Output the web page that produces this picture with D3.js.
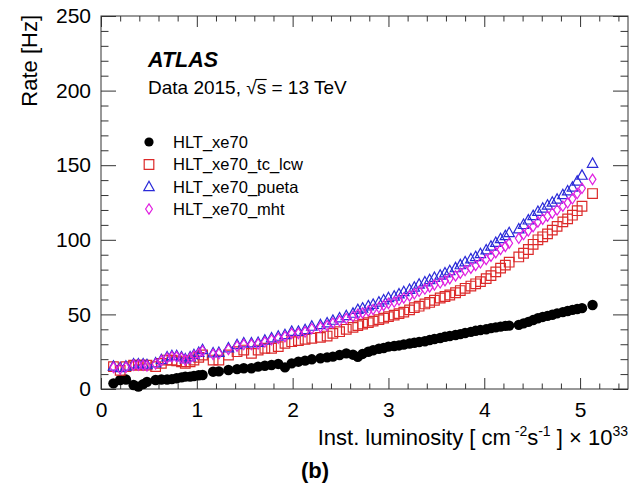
<!DOCTYPE html>
<html><head><meta charset="utf-8">
<script src="https://cdn.jsdelivr.net/npm/d3@7"></script>
<style>
body{margin:0;background:#fff}
svg{display:block}
text{font-family:"Liberation Sans",Arial,Helvetica,sans-serif;fill:#000}
</style>
</head><body>
<svg id="c" width="638" height="486"></svg>
<script>
// Instantaneous luminosity [10^33 cm^-2 s^-1]
const lumi = [0.13,0.20,0.26,
 0.34,0.39,0.44,0.48,
 0.57,0.63,0.69,0.74,0.79,0.84,0.88,0.93,0.97,1.02,1.06,
 1.17,1.23,
 1.33,1.42,1.49,1.57,1.64,1.71,1.78,1.85,1.92,1.99,2.06,2.13,2.20,2.29,2.36,2.42,2.49,2.56,2.63,
 2.68,2.73,2.79,2.84,2.90,2.95,3.00,3.06,3.11,3.16,3.22,3.27,3.32,3.38,3.43,3.48,3.54,3.59,3.64,3.70,3.75,3.80,3.86,3.91,3.96,4.02,4.07,4.12,4.17,4.22,4.26,
 4.36,4.41,4.46,4.51,4.56,4.61,4.66,4.71,4.76,4.82,4.87,4.92,4.97,5.02,
 5.13];
// Rates [Hz]
const rateXe70 = [3.8,6.0,6.4,
 2.7,1.6,3.3,4.8,
 6.0,6.4,6.4,6.6,7.2,7.8,8.3,8.3,8.7,9.2,9.4,
 11.6,11.8,
 12.7,13.3,13.9,13.9,15.0,15.6,16.1,16.8,14.5,17.2,18.3,19.0,19.9,20.6,21.2,21.7,22.8,23.9,23.0,
 21.5,23.5,25.0,26.0,27.0,27.5,28.4,28.8,29.2,29.8,30.5,31.0,31.5,32.0,32.8,33.5,34.2,35.0,35.5,36.2,36.8,37.5,38.3,39.0,39.5,40.0,40.8,41.3,41.8,42.3,42.5,
 43.0,44.0,45.0,46.2,47.4,48.3,49.0,49.8,50.7,51.5,52.3,53.0,53.6,54.2,
 56.3];
const rateTcLcw = [15,12.5,15,
 16,16,16,16,
 15,17.2,19.4,19.4,18.9,18.2,17.2,18.2,19.4,21.2,22.8,
 19.4,19.4,
 22.8,25.0,26.1,23.9,26.1,27.3,27.3,28.4,30.6,31.7,32.4,33.3,34.0,34.6,35.5,37.3,38.4,40.0,41.3,
 42.5,43.5,44.5,45.5,46.5,47.5,48.5,49.5,50.5,51.5,53,54.5,55.5,57,58,59.5,61,62,63,64.5,66,67.5,69,70.5,72,74,76,78.5,81,83,85,
 88.5,91,93.5,97,100,102,104,106.5,109,112,114,116.5,119.5,122.5,
 131];
const ratePueta = [15,14,15,
 16.5,16.5,16.5,16,
 17.2,19.4,21.2,22.1,22.1,21.2,19.9,21.2,22.8,24.3,26.1,
 23.9,24.3,
 27.3,29.5,30.6,30.6,31.0,32.4,34.0,35.1,36.2,38.4,38.4,39.5,41.8,42.9,44.0,45.8,47.4,48.9,50.5,
 53,54,55.5,56.5,58,59.5,61,62,63.5,65,66.5,68,70,71.5,73,74.5,76,77.5,79,81,83,85,87,88.5,90.5,93,95.5,98,100.5,102.5,104.5,
 107,110,113,116,118.8,121,123,125,127,130,132.5,135,139,143,
 151];
const rateMht = [14.5,13.5,14.5,
 16,16,16,15.5,
 16.8,19,20.8,21.6,21.6,20.8,19.5,20.8,22.3,23.8,25.5,
 23.2,23.6,
 26.5,28.7,29.8,29.8,30.2,31.5,33.0,34.0,35.1,37.2,37.3,38.3,40.4,41.5,42.5,44.2,45.7,47.2,48.6,
 50.0,51.0,52.3,53.3,54.6,56.0,57.4,58.3,59.6,61,62.4,63.8,65.5,67,68.4,69.8,71.2,72.6,74,75.8,77.6,79.4,81,82.8,84.6,86.8,89,91.4,93.6,95.6,97.7,
 101,103.5,106,108.8,112,113.8,115.8,117.8,120,122.5,124.8,127.5,131,134.5,
 140.5];
const seriesNames = ["HLT_xe70","HLT_xe70_tc_lcw","HLT_xe70_pueta","HLT_xe70_mht"];
const xMajor = [0,1,2,3,4,5];
const yMajor = [0,50,100,150,200,250];

const svg = d3.select("#c");
const L=101,R=628,T=16,B=389;
const x = d3.scaleLinear().domain([0,5.5]).range([L,R]);
const y = d3.scaleLinear().domain([0,250]).range([B,T]);
const xMinor = d3.range(0,5.5001,0.2).map(v=>+v.toFixed(2)).filter(v=>Math.abs(v-Math.round(v))>1e-6);
const yMinor = d3.range(0,250.001,10).filter(v=>v%50!==0);

const FS=21;
function styleAxis(g){ g.select(".domain").remove(); g.selectAll("line").attr("stroke","#333").attr("stroke-width",1); }

// bottom
svg.append("g").attr("transform",`translate(0,${B})`)
 .call(d3.axisBottom(x).tickValues(xMajor).tickSize(-11).tickPadding(13).tickFormat(d3.format("d")))
 .call(styleAxis).call(g=>g.selectAll("text").attr("font-size",FS).attr("font-family","Liberation Sans, Arial"));
svg.append("g").attr("transform",`translate(0,${B})`)
 .call(d3.axisBottom(x).tickValues(xMinor).tickSize(-5.5).tickFormat(""))
 .call(styleAxis);
// top
svg.append("g").attr("transform",`translate(0,${T})`)
 .call(d3.axisTop(x).tickValues(xMajor).tickSize(-11).tickFormat("")).call(styleAxis);
svg.append("g").attr("transform",`translate(0,${T})`)
 .call(d3.axisTop(x).tickValues(xMinor).tickSize(-5.5).tickFormat("")).call(styleAxis);
// left
svg.append("g").attr("transform",`translate(${L},0)`)
 .call(d3.axisLeft(y).tickValues(yMajor).tickSize(-15).tickPadding(10).tickFormat(d3.format("d")))
 .call(styleAxis).call(g=>g.selectAll("text").attr("font-size",FS).attr("font-family","Liberation Sans, Arial"));
svg.append("g").attr("transform",`translate(${L},0)`)
 .call(d3.axisLeft(y).tickValues(yMinor).tickSize(-7.5).tickFormat("")).call(styleAxis);
// right
svg.append("g").attr("transform",`translate(${R},0)`)
 .call(d3.axisRight(y).tickValues(yMajor).tickSize(-15).tickFormat("")).call(styleAxis);
svg.append("g").attr("transform",`translate(${R},0)`)
 .call(d3.axisRight(y).tickValues(yMinor).tickSize(-7.5).tickFormat("")).call(styleAxis);

svg.append("rect").attr("x",L).attr("y",T).attr("width",R-L).attr("height",B-T)
 .attr("fill","none").attr("stroke","#333").attr("stroke-width",1);

// markers
const shapes = {
 square: "M-4.8,-4.8h9.6v9.6h-9.6Z",
 triangle: "M0,-5.8L5.2,3.6L-5.2,3.6Z",
 diamond: "M0,-5.2L3.4,0L0,5.2L-3.4,0Z"
};
const colors = ["#000000","#dc2a2a","#2a2ad8","#e020e0"];
const sets = [rateXe70, rateTcLcw, ratePueta, rateMht];
const kinds = ["circle","square","triangle","diamond"];

function drawMarker(g, kind, color, r){
 if(kind==="circle") g.append("circle").attr("r",r||5.2).attr("fill",color);
 else g.append("path").attr("d",shapes[kind]).attr("fill","none").attr("stroke",color).attr("stroke-width",1.2);
}
sets.forEach((vals,i)=>{
 const g = svg.append("g");
 lumi.forEach((lx,j)=>{
  const m = g.append("g").attr("transform",`translate(${x(lx)},${y(vals[j])})`);
  drawMarker(m, kinds[i], colors[i]);
 });
});

// legend
const legY = [142,164.5,187,209];
seriesNames.forEach((n,i)=>{
 const m = svg.append("g").attr("transform",`translate(149,${legY[i]})`);
 drawMarker(m, kinds[i], colors[i], 4.6);
 svg.append("text").attr("x",173).attr("y",legY[i]).attr("dy","0.35em").attr("font-size",16.5).text(n);
});

// ATLAS label
svg.append("text").attr("x",148).attr("y",67).attr("font-size",21.5).attr("font-weight","bold").attr("font-style","italic").text("ATLAS");
const dt = svg.append("text").attr("x",148).attr("y",94).attr("font-size",19);
dt.append("tspan").text("Data 2015, ");
dt.append("tspan").text("\u221As");
dt.append("tspan").text(" = 13 TeV");
{
 const node = dt.node();
 const n1 = "Data 2015, \u221A".length;
 const s0 = node.getStartPositionOfChar(n1), s1 = node.getEndPositionOfChar(n1);
 svg.append("line").attr("x1",s0.x-1).attr("x2",s1.x+0.5).attr("y1",94-14.5).attr("y2",94-14.5).attr("stroke","#000").attr("stroke-width",1.1);
}

// axis titles
svg.append("text").attr("transform","translate(37,15) rotate(-90)").attr("text-anchor","end").attr("font-size",22).text("Rate [Hz]");
const xt = svg.append("text").attr("x",R).attr("y",445).attr("text-anchor","end").attr("font-size",22);
xt.append("tspan").text("Inst. luminosity [ cm");
xt.append("tspan").attr("font-size",14).attr("dy",-9).text(" -2");
xt.append("tspan").attr("dy",9).text("s");
xt.append("tspan").attr("font-size",14).attr("dy",-9).text("-1");
xt.append("tspan").attr("dy",9).text(" ] \u00D7 10");
xt.append("tspan").attr("font-size",14).attr("dy",-9).text("33");

svg.append("text").attr("x",315).attr("y",478).attr("text-anchor","middle").attr("font-size",22).attr("font-weight","bold").text("(b)");
</script>
</body></html>
